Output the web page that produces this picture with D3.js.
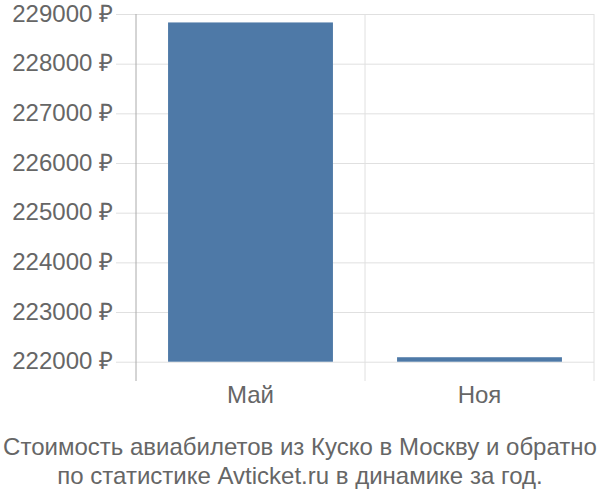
<!DOCTYPE html>
<html>
<head>
<meta charset="utf-8">
<script src="https://cdn.jsdelivr.net/npm/d3@7"></script>
<style>
  body { margin: 0; background: #fff; }
  text { font-family: "Liberation Sans", Arial, sans-serif; }
</style>
</head>
<body>
<div id="chart"></div>
<script>
const width = 600;
const height = 500;

const months = ['Май', 'Ноя'];
const prices = [228830, 222090];
const yTicks = [222000, 223000, 224000, 225000, 226000, 227000, 228000, 229000];
const titleLines = [
    'Стоимость авиабилетов из Куско в Москву и обратно',
    'по статистике Avticket.ru в динамике за год.'
];

const barColor = '#4e79a7';
const gridColor = '#e0e0e0';
const textColor = '#666';

const svg = d3.select('#chart')
    .append('svg')
    .attr('width', width)
    .attr('height', height);

const plotLeft = 136, plotRight = 594, plotTop = 14, plotBottom = 361.7, axisBottom = 381;

const x = d3.scaleBand()
    .domain(months)
    .range([plotLeft, plotRight])
    .paddingInner(0.28)
    .paddingOuter(0.14);

const y = d3.scaleLinear()
    .domain([222000, 229000])
    .range([plotBottom, plotTop]);

// horizontal grid + tick labels
const gy = svg.append('g')
    .attr('transform', `translate(${plotRight},0)`)
    .call(d3.axisLeft(y).tickValues(yTicks).tickSize(plotRight - 116).tickFormat(d => d + ' ₽').tickPadding(3));
gy.select('.domain').remove();
gy.selectAll('line').attr('stroke', gridColor).attr('stroke-width', 1);
gy.selectAll('text')
    .attr('fill', textColor)
    .attr('font-size', 24)
    .attr('dy', '0.3em');

// vertical grid lines at band edges
const edges = [plotLeft + x.step(), plotRight];
svg.selectAll('.vgrid')
    .data(edges)
    .enter()
    .append('line')
    .attr('x1', d => d)
    .attr('x2', d => d)
    .attr('y1', plotTop)
    .attr('y2', axisBottom)
    .attr('stroke', gridColor)
    .attr('stroke-width', 1);

// bars
svg.selectAll('.bar')
    .data(prices)
    .enter()
    .append('rect')
    .attr('x', (d, i) => x(months[i]))
    .attr('width', x.bandwidth())
    .attr('y', d => y(d))
    .attr('height', d => y(222000) - y(d))
    .attr('fill', barColor);

// left axis line
svg.append('line')
    .attr('x1', plotLeft)
    .attr('x2', plotLeft)
    .attr('y1', plotTop)
    .attr('y2', axisBottom)
    .attr('stroke', '#aaa')
    .attr('stroke-width', 1);

// x labels
svg.selectAll('.xlabel')
    .data(months)
    .enter()
    .append('text')
    .attr('x', d => x(d) + x.bandwidth() / 2)
    .attr('y', 403)
    .attr('text-anchor', 'middle')
    .attr('font-size', 24)
    .attr('fill', textColor)
    .text(d => d);

// title
svg.selectAll('.title')
    .data(titleLines)
    .enter()
    .append('text')
    .attr('x', width / 2)
    .attr('y', (d, i) => 455 + i * 29)
    .attr('text-anchor', 'middle')
    .attr('font-size', 24)
    .attr('fill', textColor)
    .text(d => d);
</script>
</body>
</html>
